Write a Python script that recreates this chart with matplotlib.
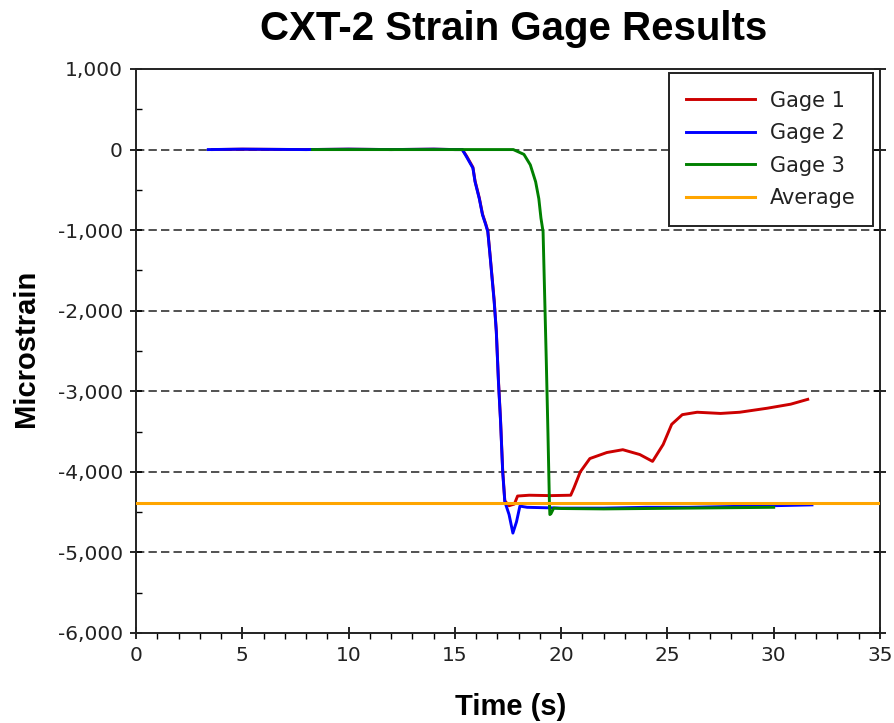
import matplotlib
matplotlib.use('Agg')
import matplotlib.pyplot as plt
from matplotlib.ticker import MultipleLocator, FuncFormatter

# Gage 1 (red)
t_gage1 = [3.6, 5, 8, 10, 12, 14, 15.0, 15.35, 15.55, 15.85, 15.95, 16.15, 16.3, 16.45, 16.55, 16.65,
           16.85, 16.95, 17.05, 17.15, 17.25, 17.35, 17.55, 17.8, 17.95, 18.5, 19.5, 20.45, 20.6,
           20.9, 21.35, 22.15, 22.9, 23.7, 24.3, 24.8, 25.2, 25.7, 26.4, 27.5, 28.4, 29.7, 30.8, 31.6]
s_gage1 = [0, 5, 0, 5, 0, 5, 0, 0, -80, -220, -390, -600, -800, -920, -1010, -1290,
           -1870, -2250, -2860, -3360, -3980, -4360, -4420, -4400, -4300, -4290, -4295, -4290, -4200,
           -4000, -3835, -3760, -3725, -3785, -3870, -3660, -3410, -3290, -3260, -3275, -3260, -3210, -3160, -3100]

# Gage 2 (blue)
t_gage2 = [3.4, 5, 8, 10, 12, 14, 15.0, 15.35, 15.55, 15.85, 15.95, 16.15, 16.3, 16.45, 16.55, 16.65,
           16.85, 16.95, 17.05, 17.15, 17.25, 17.35, 17.55, 17.73, 17.9, 18.06, 18.4, 20, 22, 24, 26,
           28, 30, 31.8]
s_gage2 = [0, 5, 0, 5, 0, 5, 0, 0, -90, -230, -400, -610, -810, -930, -1020, -1300,
           -1890, -2260, -2880, -3375, -4000, -4370, -4530, -4760, -4620, -4425, -4440, -4450, -4450,
           -4440, -4440, -4430, -4420, -4410]

# Gage 3 (green)
t_gage3 = [8.3, 10, 12, 14, 16, 17.0, 17.75, 18.25, 18.55, 18.8, 18.95, 19.05, 19.15, 19.3,
           19.38, 19.45, 19.47, 19.52, 19.65, 20, 22, 24, 26, 28, 30.0]
s_gage3 = [0, 0, 0, 0, 0, 0, 0, -60, -190, -400, -610, -850, -1020, -2610,
           -3525, -4400, -4530, -4520, -4450, -4455, -4460, -4455, -4450, -4445, -4440]

average = -4390

fig = plt.figure(figsize=(8.95, 7.23), dpi=100)
ax = fig.add_axes([136 / 895, 1 - 633 / 723, 744 / 895, 564 / 723])

ax.plot(t_gage1, s_gage1, color='#cc0000', lw=2.1, label='Gage 1', zorder=3)
ax.plot(t_gage2, s_gage2, color='#0000ff', lw=2.1, label='Gage 2', zorder=3)
ax.plot(t_gage3, s_gage3, color='#008000', lw=2.1, label='Gage 3', zorder=3)
ax.axhline(average, color='#ffa500', lw=2.2, label='Average', zorder=4)

ax.set_xlim(0, 35)
ax.set_ylim(-6000, 1000)
ax.xaxis.set_major_locator(MultipleLocator(5))
ax.xaxis.set_minor_locator(MultipleLocator(1))
ax.yaxis.set_major_locator(MultipleLocator(1000))
ax.yaxis.set_minor_locator(MultipleLocator(500))
ax.yaxis.set_major_formatter(FuncFormatter(lambda v, p: f'{int(v):,}'))

# dashed grid on the inner major levels
for lvl in range(-5000, 1000, 1000):
    ax.axhline(lvl, color='#333333', lw=1.2, ls=(0, (5, 2.5)), zorder=1)

ax.tick_params(which='major', direction='inout', length=9, width=1.2, labelsize=14.5,
               labelcolor='#222222', pad=5)
ax.tick_params(axis='y', which='minor', direction='in', length=4, width=1)
ax.tick_params(axis='x', which='minor', direction='out', length=4, width=1)
ax.tick_params(axis='y', right=True, which='major')
for sp in ax.spines.values():
    sp.set_linewidth(1.4)
    sp.set_color('#222222')

fig.text(514 / 895, 1 - 40 / 723, 'CXT-2 Strain Gage Results', family='Liberation Sans',
         weight='bold', fontsize=29, ha='center', va='baseline')
fig.text(511 / 895, 1 - 715 / 723, 'Time (s)', family='Liberation Sans', weight='bold',
         fontsize=21, ha='center', va='baseline')
fig.text(40 / 895, 1 - 348 / 723, 'Microstrain', family='Liberation Sans', weight='bold',
         fontsize=21, ha='right', va='center', rotation=90)

leg = ax.legend(loc='upper right', bbox_to_anchor=(1 - 7 / 744, 1 - 4 / 564), fontsize=15,
                handlelength=3.3, handletextpad=0.7, labelspacing=0.6,
                borderpad=0.85, borderaxespad=0, fancybox=False, framealpha=1,
                edgecolor='#222222')
leg.get_frame().set_linewidth(1.4)
for txt in leg.get_texts():
    txt.set_color('#222222')

fig.savefig('out.png', dpi=100)
